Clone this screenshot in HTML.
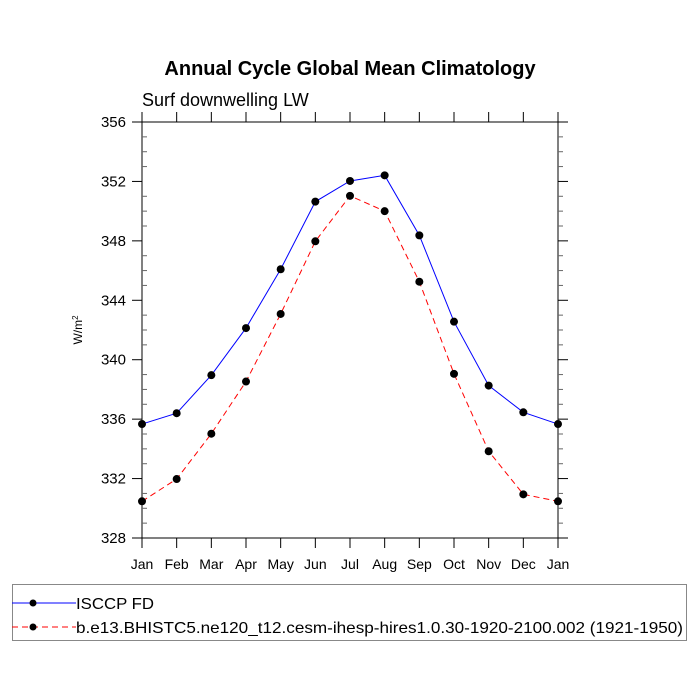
<!DOCTYPE html>
<html><head><meta charset="utf-8"><style>
body{margin:0;background:#fff;}
svg{display:block;font-family:"Liberation Sans",Arial,sans-serif;}
</style></head><body>
<svg id="chart" width="700" height="700" viewBox="0 0 700 700">
<text x="350" y="75" text-anchor="middle" font-size="20" font-weight="bold">Annual Cycle Global Mean Climatology</text>
<text x="142" y="106" font-size="18">Surf downwelling LW</text>
<text transform="translate(82,330) rotate(-90)" text-anchor="middle" font-size="12">W/m<tspan dy="-4" font-size="8">2</tspan></text>
<g id="axes"></g>
<g id="series"></g>
<g id="legend">
<rect x="12.5" y="584.5" width="674" height="56" fill="none" stroke="#888"/>
<g>
<line x1="12" y1="603" x2="76" y2="603" stroke="#00f" stroke-width="1"/>
<circle cx="33" cy="603" r="3.5" fill="#000"/>
<text x="76" y="609" font-size="16" textLength="78" lengthAdjust="spacingAndGlyphs">ISCCP FD</text>
</g>
<g>
<line x1="12" y1="627" x2="76" y2="627" stroke="#f00" stroke-width="1" stroke-dasharray="6,4"/>
<circle cx="33" cy="627" r="3.5" fill="#000"/>
<text x="76" y="633" font-size="16" textLength="607" lengthAdjust="spacingAndGlyphs">b.e13.BHISTC5.ne120_t12.cesm-ihesp-hires1.0.30-1920-2100.002 (1921-1950)</text>
</g>
</g>
</svg>
<script>
const months = ["Jan","Feb","Mar","Apr","May","Jun","Jul","Aug","Sep","Oct","Nov","Dec","Jan"];
const isccp = [335.67,336.4,338.96,342.13,346.09,350.64,352.03,352.41,348.37,342.56,338.26,336.46,335.67];
const model = [330.47,331.97,335.02,338.53,343.08,347.97,351.03,350.0,345.25,339.05,333.84,330.94,330.47];
const yTicks = [328,332,336,340,344,348,352,356];
const yMin = 328, yMax = 356;
const L=142, R=558, T=122, B=538;
const NS="http://www.w3.org/2000/svg";
function xS(i){return L+(R-L)*i/(months.length-1);}
function yS(v){return B-(B-T)*(v-yMin)/(yMax-yMin);}
function mk(tag,attrs,parent){const e=document.createElementNS(NS,tag);for(const k in attrs)e.setAttribute(k,attrs[k]);parent.appendChild(e);return e;}
const axes=document.getElementById('axes');
const frame=mk('rect',{x:L,y:T,width:R-L,height:B-T,fill:'none',stroke:'#000','stroke-width':1},axes);


for(let i=0;i<months.length;i++){
  const x=xS(i);
  mk('line',{x1:x,y1:B,x2:x,y2:B+10,stroke:'#000'},axes);
  mk('line',{x1:x,y1:T,x2:x,y2:T-10,stroke:'#000'},axes);
  const t=mk('text',{x:x,y:B+31,'text-anchor':'middle','font-size':14},axes);
  t.textContent=months[i];
  
  
}
for(let v=yMin; v<=yMax; v+=1){
  const y=yS(v);
  if(v%4===0){
    mk('line',{x1:L-10,y1:y,x2:L,y2:y,stroke:'#000'},axes);
    mk('line',{x1:R,y1:y,x2:R+10,y2:y,stroke:'#000'},axes);
  } else {
    mk('line',{x1:L,y1:y,x2:L+5,y2:y,stroke:'#666'},axes);
    mk('line',{x1:R,y1:y,x2:R+5,y2:y,stroke:'#666'},axes);
  }
}
yTicks.forEach(v=>{
  const t=mk('text',{x:L-16,y:yS(v)+5,'text-anchor':'end','font-size':15},axes);
  t.textContent=v;
  
  
});
const series=document.getElementById('series');
function draw(vals,color,dash,name){
  const g=mk('g',{},series);
  
  
  const pts=vals.map((v,i)=>xS(i)+','+yS(v)).join(' ');
  const a={points:pts,fill:'none',stroke:color,'stroke-width':1};
  if(dash)a['stroke-dasharray']=dash;
  mk('polyline',a,g);
  vals.forEach((v,i)=>{
    const c=mk('circle',{cx:xS(i),cy:yS(v),r:4,fill:'#000'},g);
    
    
  });
}
draw(model,'#f00','6,4','series-model');
draw(isccp,'#00f',null,'series-isccp');
</script>
</body></html>
